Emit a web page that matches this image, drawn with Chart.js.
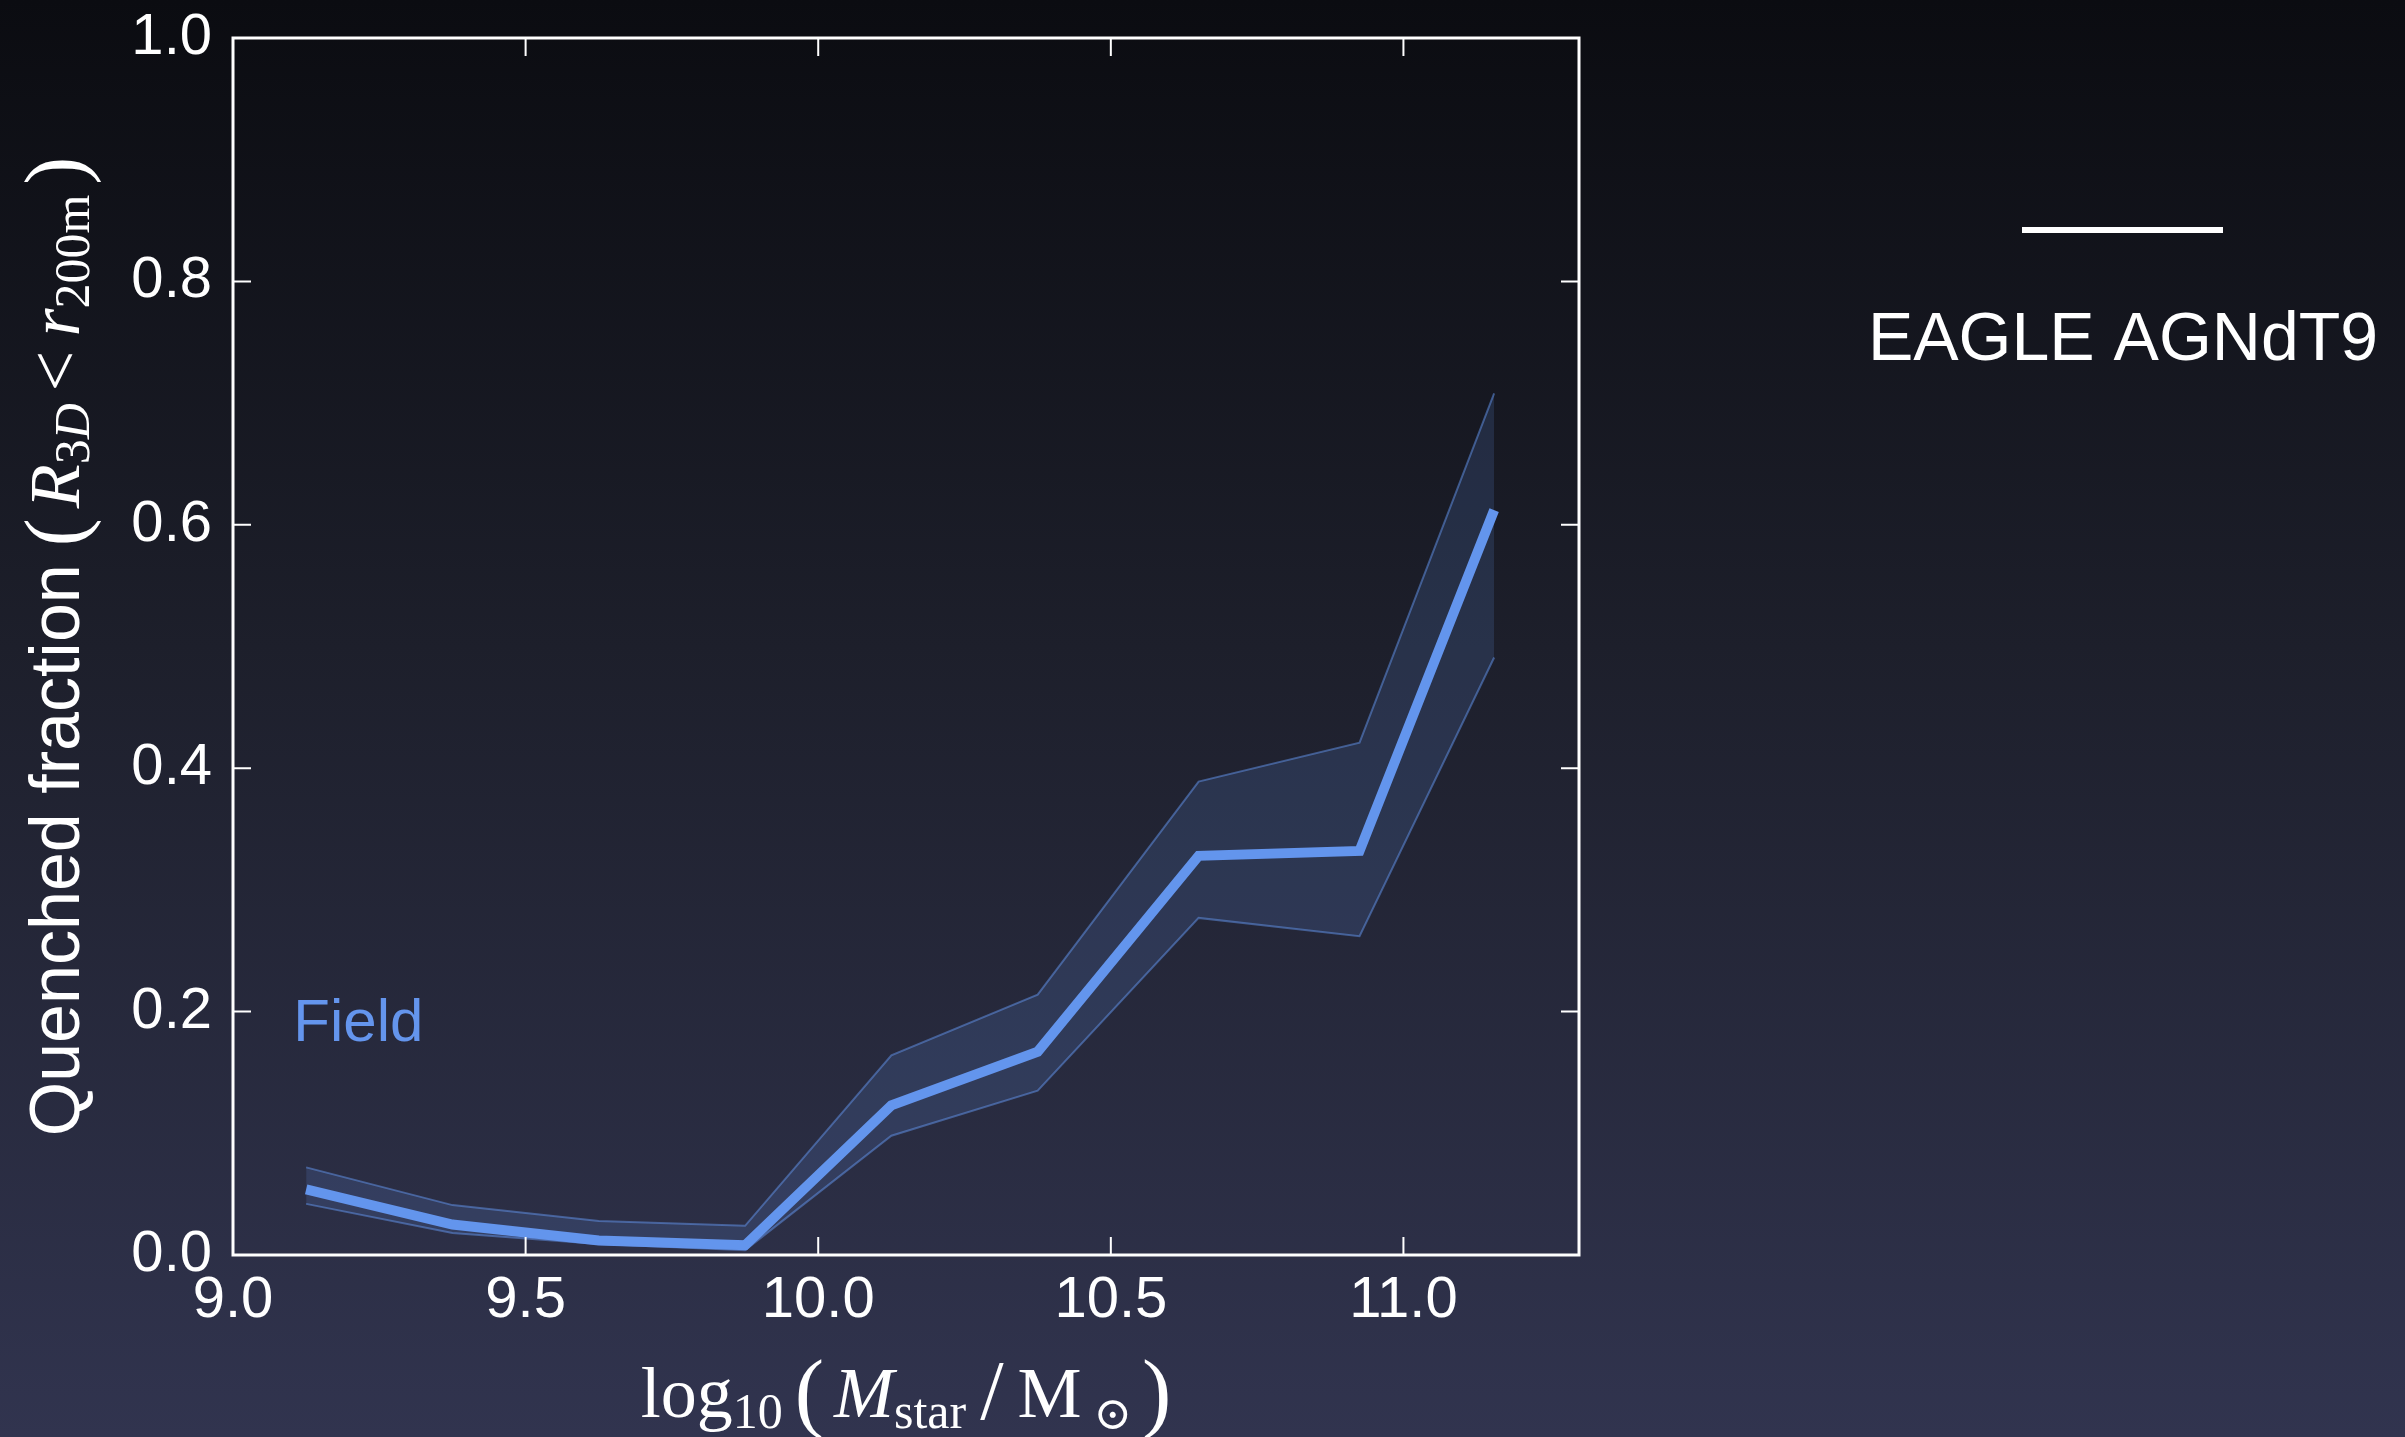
<!DOCTYPE html>
<html>
<head>
<meta charset="utf-8">
<script src="https://cdn.jsdelivr.net/npm/chart.js@4/dist/chart.umd.min.js"></script>
<style>
  html, body { margin: 0; padding: 0; }
  body {
    width: 2405px; height: 1437px; overflow: hidden;
    background: linear-gradient(to bottom, #0b0c11 0%, #1d1f2b 45%, #31344f 100%);
  }
  canvas { display: block; }
</style>
</head>
<body>
<canvas id="chart" width="2405" height="1437"></canvas>
<script>
// stellar mass bin centres, log10(Mstar / Msun)
const massBins = [9.125, 9.375, 9.625, 9.875, 10.125, 10.375, 10.65, 10.925, 11.155];
// quenched fraction in the field: median and the band around it
const fieldMedian = [0.054, 0.025, 0.012, 0.008, 0.123, 0.167, 0.328, 0.332, 0.612];
const fieldUpper = [0.072, 0.041, 0.028, 0.024, 0.164, 0.214, 0.389, 0.421, 0.708];
const fieldLower = [0.042, 0.018, 0.009, 0.004, 0.098, 0.135, 0.277, 0.262, 0.491];

const xTicks = [9.0, 9.5, 10.0, 10.5, 11.0];
const yTicks = [0.0, 0.2, 0.4, 0.6, 0.8, 1.0];

const fieldLabel = 'Field';
const simLabel = 'EAGLE AGNdT9';

const BLUE = '#6495ED';
const SANS = "'Liberation Sans', Arial, Helvetica, sans-serif";
const SERIF = "'Liberation Serif', 'DejaVu Serif', serif";

const toPoints = ys => massBins.map((x, i) => ({ x: x, y: ys[i] }));

// draw a row of text pieces (sub-scripts, gaps) centred on cx
function drawRuns(ctx, runs, cx, baseY) {
    let total = 0;
    runs.forEach(r => {
        ctx.font = r.font;
        r.w = ctx.measureText(r.text).width;
        total += r.w + (r.gap || 0);
    });
    let x = cx - total / 2;
    ctx.textAlign = 'left';
    ctx.textBaseline = 'alphabetic';
    runs.forEach(r => {
        ctx.font = r.font;
        ctx.fillText(r.text, x, baseY + (r.dy || 0));
        x += r.w + (r.gap || 0);
    });
}

const framePlugin = {
    id: 'frame',
    afterDatasetsDraw(chart) {
        const { ctx, chartArea: a, scales } = chart;
        ctx.save();
        ctx.strokeStyle = '#ffffff';
        // inward ticks on all four sides
        ctx.lineWidth = 2;
        const len = 18;
        ctx.beginPath();
        xTicks.forEach(v => {
            const px = scales.x.getPixelForValue(v);
            ctx.moveTo(px, a.bottom); ctx.lineTo(px, a.bottom - len);
            ctx.moveTo(px, a.top); ctx.lineTo(px, a.top + len);
        });
        yTicks.forEach(v => {
            const py = scales.y.getPixelForValue(v);
            ctx.moveTo(a.left, py); ctx.lineTo(a.left + len, py);
            ctx.moveTo(a.right, py); ctx.lineTo(a.right - len, py);
        });
        ctx.stroke();
        ctx.lineWidth = 3;
        ctx.strokeRect(a.left, a.top, a.right - a.left, a.bottom - a.top);

        // "Field" label placed in data space
        ctx.fillStyle = BLUE;
        ctx.font = '60px ' + SANS;
        ctx.textAlign = 'left';
        ctx.textBaseline = 'alphabetic';
        ctx.fillText(fieldLabel, scales.x.getPixelForValue(9.103), scales.y.getPixelForValue(0.176));
        ctx.restore();
    },
    afterDraw(chart) {
        const { ctx, chartArea: a } = chart;
        ctx.save();
        ctx.fillStyle = '#ffffff';

        // x axis title: log10 ( Mstar / Msun )
        drawRuns(ctx, [
            { text: 'log', font: '72px ' + SERIF },
            { text: '10', font: '50px ' + SERIF, dy: 11, gap: 12 },
            { text: '(', font: '88px ' + SERIF, dy: 4, gap: 10 },
            { text: 'M', font: 'italic 72px ' + SERIF },
            { text: 'star', font: '50px ' + SERIF, dy: 11, gap: 14 },
            { text: '/', font: '84px ' + SERIF, dy: 2, gap: 14 },
            { text: 'M', font: '72px ' + SERIF, gap: 12 },
            { text: '\u2299', font: '46px ' + SERIF, dy: 12, gap: 10 },
            { text: ')', font: '88px ' + SERIF, dy: 4 }
        ], (a.left + a.right) / 2, 1417);

        // y axis title: Quenched fraction ( R3D < r200m )
        ctx.translate(79, (a.top + a.bottom) / 2);
        ctx.rotate(-Math.PI / 2);
        drawRuns(ctx, [
            { text: 'Quenched fraction', font: '70px ' + SANS, gap: 18 },
            { text: '(', font: '84px ' + SERIF, dy: 4, gap: 10 },
            { text: 'R', font: 'italic 72px ' + SERIF },
            { text: '3', font: '50px ' + SERIF, dy: 10 },
            { text: 'D', font: 'italic 50px ' + SERIF, dy: 10, gap: 12 },
            { text: '<', font: '72px ' + SERIF, gap: 14 },
            { text: 'r', font: 'italic 72px ' + SERIF },
            { text: '200m', font: '50px ' + SERIF, dy: 10, gap: 10 },
            { text: ')', font: '84px ' + SERIF, dy: 4 }
        ], 0, 0);
        ctx.restore();

        // legend entry on the right
        ctx.save();
        ctx.strokeStyle = '#ffffff';
        ctx.lineWidth = 6;
        ctx.beginPath();
        ctx.moveTo(2022, 230); ctx.lineTo(2223, 230);
        ctx.stroke();
        ctx.fillStyle = '#ffffff';
        ctx.font = '68px ' + SANS;
        ctx.textAlign = 'center';
        ctx.textBaseline = 'alphabetic';
        ctx.fillText(simLabel, 2123, 360);
        ctx.restore();
    }
};

new Chart(document.getElementById('chart'), {
    type: 'line',
    data: {
        datasets: [
            {
                label: 'upper',
                data: toPoints(fieldUpper),
                borderColor: 'rgba(100,149,237,0.5)',
                borderWidth: 2,
                backgroundColor: 'rgba(100,149,237,0.16)',
                fill: 1,
                pointRadius: 0,
                tension: 0
            },
            {
                label: 'lower',
                data: toPoints(fieldLower),
                borderColor: 'rgba(100,149,237,0.5)',
                borderWidth: 2,
                fill: false,
                pointRadius: 0,
                tension: 0
            },
            {
                label: fieldLabel,
                data: toPoints(fieldMedian),
                borderColor: BLUE,
                borderWidth: 10,
                borderJoinStyle: 'miter',
                fill: false,
                pointRadius: 0,
                tension: 0
            }
        ]
    },
    options: {
        responsive: false,
        animation: false,
        layout: { padding: { left: 0, top: 38, right: 826, bottom: 0 } },
        plugins: {
            legend: { display: false },
            tooltip: { enabled: false }
        },
        scales: {
            x: {
                type: 'linear',
                min: 9.0,
                max: 11.3,
                grid: { display: false },
                border: { display: false },
                afterBuildTicks: s => { s.ticks = xTicks.map(v => ({ value: v })); },
                afterFit: s => { s.height = 182; s.paddingLeft = 0; s.paddingRight = 0; },
                ticks: {
                    color: '#ffffff',
                    font: { family: SANS, size: 58 },
                    padding: 3,
                    maxRotation: 0,
                    callback: v => v.toFixed(1)
                }
            },
            y: {
                min: 0,
                max: 1,
                grid: { display: false },
                border: { display: false },
                afterBuildTicks: s => { s.ticks = yTicks.map(v => ({ value: v })); },
                afterFit: s => { s.width = 233; s.paddingTop = 0; s.paddingBottom = 0; },
                ticks: {
                    color: '#ffffff',
                    font: { family: SANS, size: 58 },
                    padding: 13,
                    callback: v => v.toFixed(1)
                }
            }
        }
    },
    plugins: [framePlugin]
});
</script>
</body>
</html>
